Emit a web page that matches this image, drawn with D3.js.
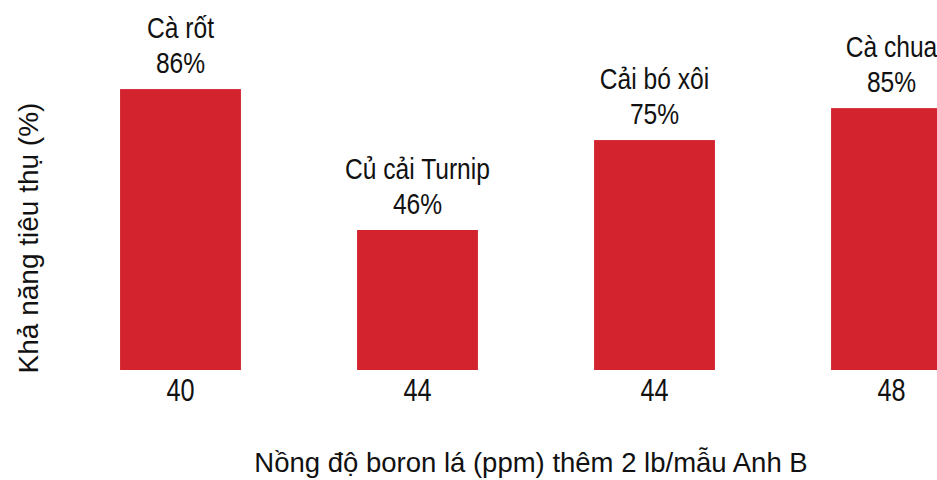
<!DOCTYPE html>
<html>
<head>
<meta charset="utf-8">
<script src="https://cdn.jsdelivr.net/npm/d3@7"></script>
<style>
  body { margin: 0; background: #fff; }
  svg { display: block; }
  text { font-family: "Liberation Sans", Arial, sans-serif; fill: #111; }
</style>
</head>
<body>
<div id="chart"></div>
<script>
const width = 937;
const height = 480;

// data
const crops = ["Cà rốt", "Củ cải Turnip", "Cải bó xôi", "Cà chua"];
const boron = ["40", "44", "44", "48"];
const pctLabels = ["86%", "46%", "75%", "85%"];
const barValues = [91.5, 45.6, 74.9, 85.3];

const xTitle = "Nồng độ boron lá (ppm) thêm 2 lb/mẫu Anh B";
const yTitle = "Khả năng tiêu thụ (%)";

const barColor = "#d2232f";

let svg = d3.select("#chart")
  .append("svg")
    .attr("width", width)
    .attr("height", height);

let x = d3.scaleBand()
  .domain(crops)
  .range([62, 62 + 4 * 237])
  .paddingInner(0.49)
  .paddingOuter(0.245);

let y = d3.scaleLinear()
  .domain([0, 100])
  .range([370, 63]);

// bars
svg.selectAll("rect.bar")
  .data(crops)
  .enter()
  .append("rect")
    .attr("class", "bar")
    .attr("x", d => x(d))
    .attr("width", x.bandwidth())
    .attr("y", (d, i) => y(barValues[i]))
    .attr("height", (d, i) => y(0) - y(barValues[i]))
    .attr("fill", barColor);

// labels above bars: crop name + percent (narrow face -> squeeze horizontally)
let lab = svg.selectAll("g.lab")
  .data(crops)
  .enter()
  .append("g")
    .attr("class", "lab")
    .attr("transform", (d, i) => "translate(" + (x(d) + x.bandwidth() / 2) + "," + y(barValues[i]) + ") scale(0.82,1)");
lab.append("text")
  .attr("text-anchor", "middle")
  .attr("font-size", "30px")
  .attr("y", -51)
  .text(d => d);
lab.append("text")
  .attr("text-anchor", "middle")
  .attr("font-size", "30px")
  .attr("y", -16)
  .text((d, i) => pctLabels[i]);

// x axis tick labels (boron values)
let xAxis = d3.axisBottom(x)
  .tickSize(0)
  .tickPadding(0)
  .tickFormat((d, i) => boron[i]);
let xg = svg.append("g")
  .attr("transform", "translate(0," + y(0) + ")")
  .call(xAxis);
xg.select(".domain").remove();
xg.selectAll("text")
  .attr("dy", null)
  .attr("y", 0)
  .attr("transform", "translate(0,31) scale(0.79,1)")
  .attr("font-size", "32px")
  .attr("font-family", "Liberation Sans, Arial, sans-serif")
  .attr("fill", "#111");

// axis titles
svg.append("text")
  .text(xTitle)
  .attr("x", 531)
  .attr("y", 472)
  .attr("text-anchor", "middle")
  .attr("font-size", "27.5px");

svg.append("text")
  .text(yTitle)
  .attr("transform", "translate(38,238) rotate(-90)")
  .attr("text-anchor", "middle")
  .attr("font-size", "28px");
</script>
</body>
</html>
